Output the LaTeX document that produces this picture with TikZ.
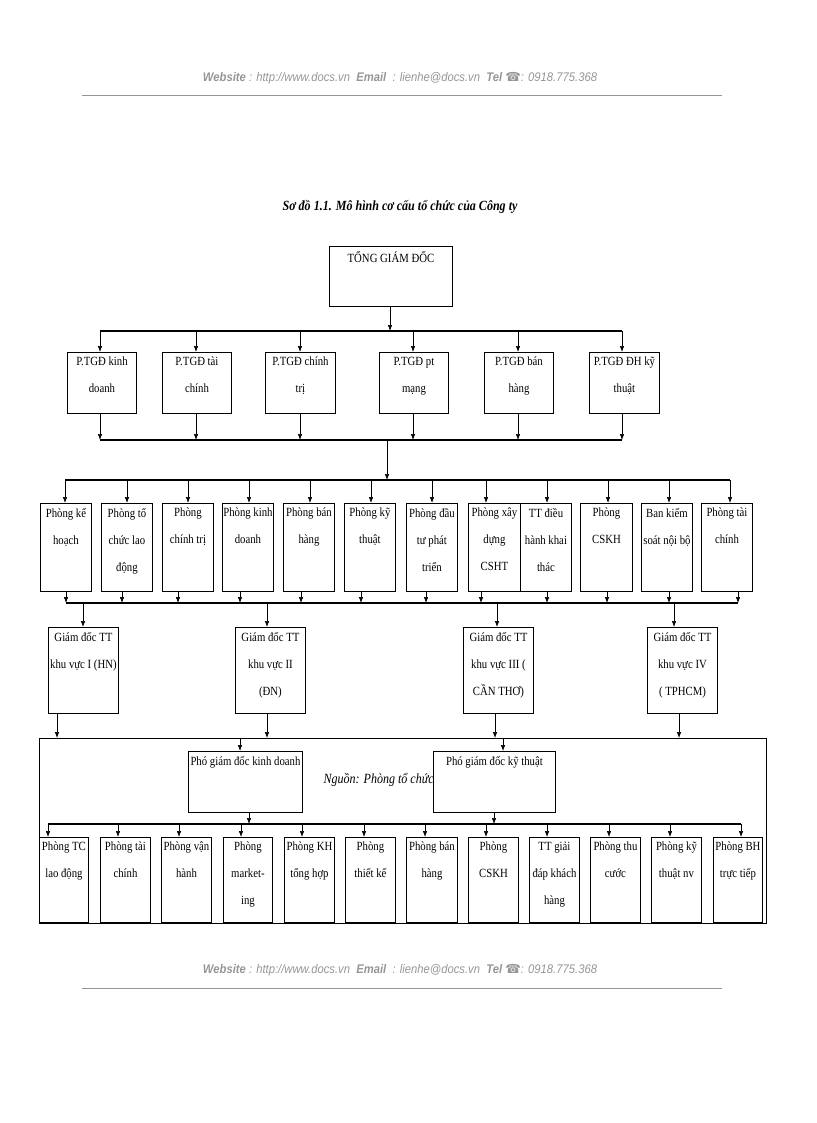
\documentclass[tikz,border=0pt]{standalone}
\usepackage{fontspec}
\setmainfont{Liberation Serif}
\newfontfamily\nar[FakeStretch=0.86]{Liberation Serif}
\newfontfamily\hdr[FakeStretch=0.9]{Liberation Sans}
\newfontfamily\sym{DejaVu Sans}
\usetikzlibrary{arrows.meta}
\definecolor{hgray}{RGB}{150,150,150}
\tikzset{
 bx/.style={draw,line width=0.9pt,anchor=north west,inner sep=0pt},
 lb/.style={anchor=north,align=center,font=\nar\fontsize{12.5}{27}\selectfont,inner sep=0pt},
 arr/.style={-{Latex[length=6pt,width=4.5pt]},line width=0.6pt},
 bus/.style={line width=1.4pt},
}
\newcommand{\mybox}[6]{\node[bx,minimum width=#4-#2,minimum height=#5-#3] (#1) at (#2,#3) {};
 \node[lb] at ([yshift=-5pt]#1.north) {#6};}
\newcommand{\hd}[1]{\node[font=\hdr\itshape\fontsize{12.5}{14}\selectfont,text=hgray] at (400,#1) {\textbf{Website} : http://www.docs.vn\ \ \textbf{Email} \ : lienhe@docs.vn\ \ \textbf{Tel} {\sym ☎}: 0918.775.368};}
\begin{document}
\begin{tikzpicture}[x=1pt,y=-1pt]
\useasboundingbox (0,0) rectangle (816,1123);
\hd{78}
\draw[hgray,line width=1pt] (82,96) -- (722,96);
\hd{970}
\draw[hgray,line width=1pt] (82,988) -- (722,988);
\node[font=\nar\bfseries\itshape\fontsize{14}{16}\selectfont] at (400,207) {Sơ đồ 1.1. Mô hình cơ cấu tổ chức của Công ty};
% top
\mybox{tgd}{329}{246}{452}{306}{TỔNG GIÁM ĐỐC}
\draw[bus] (100,331) -- (622,331);
\draw[arr] (tgd.south -| 390,0) -- (390,331);
% level 2
\mybox{p1}{67}{352}{136}{413}{P.TGĐ kinh\\doanh}
\mybox{p2}{162}{352}{231}{413}{P.TGĐ tài\\chính}
\mybox{p3}{265}{352}{335}{413}{P.TGĐ chính\\trị}
\mybox{p4}{379}{352}{448}{413}{P.TGĐ pt\\mạng}
\mybox{p5}{484}{352}{553}{413}{P.TGĐ bán\\hàng}
\mybox{p6}{589}{352}{659}{413}{P.TGĐ ĐH kỹ\\thuật}
\draw[bus] (100,440) -- (622,440);
\foreach \n/\x in {p1/100,p2/196,p3/300,p4/413,p5/518,p6/622}{
 \draw[arr] (\x,331) -- (\n.north -| \x,0);
 \draw[arr] (\n.south -| \x,0) -- (\x,440);}
\draw[arr] (387,440) -- (387,480);
\draw[bus] (65,480) -- (730,480);
% level 3
\mybox{d1}{40}{503}{91}{591}{Phòng kế\\hoạch}
\mybox{d2}{101}{503}{152}{591}{Phòng tổ\\chức lao\\động}
\mybox{d3}{162}{503}{213}{591}{Phòng\\chính trị}
\mybox{d4}{222}{503}{273}{591}{Phòng kinh\\doanh}
\mybox{d5}{283}{503}{334}{591}{Phòng bán\\hàng}
\mybox{d6}{344}{503}{395}{591}{Phòng kỹ\\thuật}
\mybox{d7}{406}{503}{457}{591}{Phòng đầu\\tư phát\\triển}
\mybox{d8}{468}{503}{520}{591}{Phòng xây\\dựng\\CSHT}
\mybox{d9}{520}{503}{571}{591}{TT điều\\hành khai\\thác}
\mybox{d10}{580}{503}{632}{591}{Phòng\\CSKH}
\mybox{d11}{641}{503}{692}{591}{Ban kiểm\\soát nội bộ}
\mybox{d12}{701}{503}{752}{591}{Phòng tài\\chính}
\foreach \n/\x in {d1/65,d2/127,d3/188,d4/249,d5/310,d6/371,d7/432,d8/486,d9/547,d10/608,d11/669,d12/730}{
 \draw[arr] (\x,480) -- (\n.north -| \x,0);}
\draw[bus] (66,603) -- (738,603);
\foreach \n/\x in {d1/66,d2/122,d3/178,d4/240,d5/301,d6/361,d7/426,d8/481,d9/547,d10/607,d11/669,d12/738}{
 \draw[arr] (\n.south -| \x,0) -- (\x,603);}
% level 4
\mybox{g1}{48}{627}{118}{713}{Giám đốc TT\\khu vực I (HN)}
\mybox{g2}{235}{627}{305}{713}{Giám đốc TT\\khu vực II\\(ĐN)}
\mybox{g3}{463}{627}{533}{713}{Giám đốc TT\\khu vực III (\\CẦN THƠ)}
\mybox{g4}{647}{627}{717}{713}{Giám đốc TT\\khu vực IV\\( TPHCM)}
\foreach \n/\x in {g1/83,g2/267,g3/497,g4/674}{
 \draw[arr] (\x,603) -- (\n.north -| \x,0);}
% big frame
\node[bx,minimum width=727,minimum height=185] (fr) at (39,738) {};
\foreach \n/\x in {g1/57,g2/267,g3/495,g4/679}{
 \draw[arr] (\n.south -| \x,0) -- (fr.north -| \x,0);}
\node[font=\nar\itshape\fontsize{14}{16}\selectfont,anchor=west] at (320,780) {Nguồn: Phòng tổ chức};
\mybox{pk}{188}{751}{302}{812}{Phó giám đốc kinh doanh}
\node[bx,fill=white,minimum width=122,minimum height=61] (pt) at (433,751) {};
\node[lb] at ([yshift=-5pt]pt.north) {Phó giám đốc kỹ thuật};
\draw[arr] (fr.north -| 240,0) -- (pk.north -| 240,0);
\draw[arr] (fr.north -| 503,0) -- (pt.north -| 503,0);
\draw[bus] (48,824) -- (741,824);
\draw[arr] (pk.south -| 249,0) -- (249,824);
\draw[arr] (pt.south -| 494,0) -- (494,824);
% bottom
\mybox{e1}{39}{837}{88}{922}{Phòng TC\\lao động}
\mybox{e2}{100}{837}{150}{922}{Phòng tài\\chính}
\mybox{e3}{161}{837}{211}{922}{Phòng vận\\hành}
\mybox{e4}{223}{837}{272}{922}{Phòng\\market-\\ing}
\mybox{e5}{284}{837}{334}{922}{Phòng KH\\tổng hợp}
\mybox{e6}{345}{837}{395}{922}{Phòng\\thiết kế}
\mybox{e7}{406}{837}{457}{922}{Phòng bán\\hàng}
\mybox{e8}{468}{837}{518}{922}{Phòng\\CSKH}
\mybox{e9}{529}{837}{579}{922}{TT giải\\đáp khách\\hàng}
\mybox{e10}{590}{837}{640}{922}{Phòng thu\\cước}
\mybox{e11}{651}{837}{701}{922}{Phòng kỹ\\thuật nv}
\mybox{e12}{713}{837}{762}{922}{Phòng BH\\trực tiếp}
\foreach \n/\x in {e1/48,e2/118,e3/179,e4/241,e5/302,e6/364,e7/425,e8/486,e9/547,e10/609,e11/670,e12/741}{
 \draw[arr] (\x,824) -- (\n.north -| \x,0);}
\end{tikzpicture}
\end{document}
